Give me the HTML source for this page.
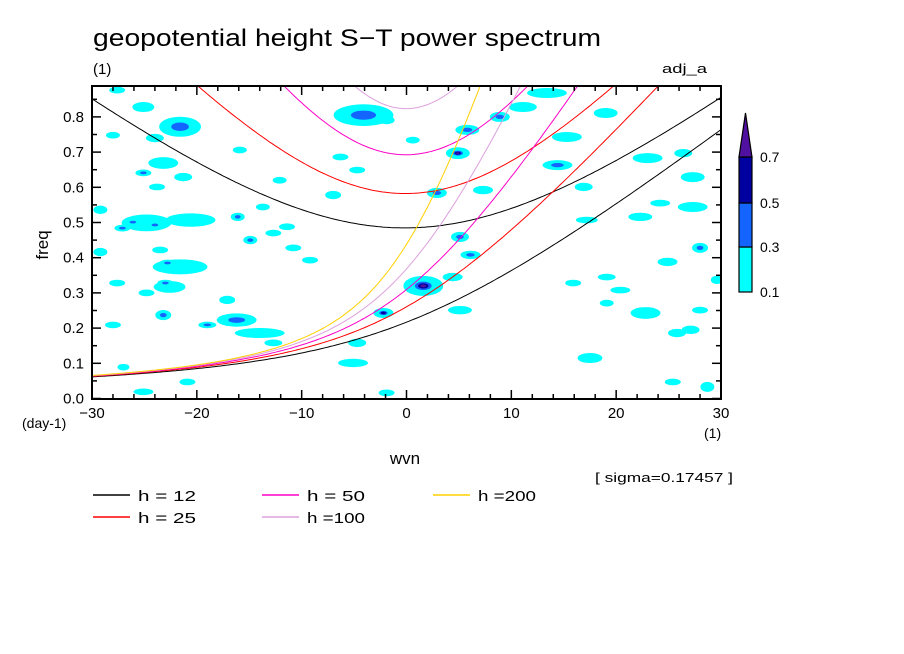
<!DOCTYPE html>
<html><head><meta charset="utf-8"><style>
html,body{margin:0;padding:0;background:#fff;}
svg{display:block;font-family:"Liberation Sans",sans-serif;}
</style></head><body>
<svg id="chart" width="904" height="654" viewBox="0 0 904 654" xmlns="http://www.w3.org/2000/svg">
<defs><clipPath id="pc"><rect x="92" y="86" width="629" height="313"/></clipPath></defs>
<text x="93" y="46" font-size="24" fill="#000" textLength="508" lengthAdjust="spacingAndGlyphs">geopotential height S−T power spectrum</text>
<text x="93" y="74" font-size="15" fill="#000">(1)</text>
<text x="707" y="73" font-size="13" fill="#000" text-anchor="end" textLength="45" lengthAdjust="spacingAndGlyphs">adj_a</text>
<g id="field" clip-path="url(#pc)"></g>
<g id="curves" clip-path="url(#pc)"></g>
<rect x="92" y="86" width="629" height="313" fill="none" stroke="#000" stroke-width="2"/>
<g id="axes"></g>
<text transform="translate(48,245) rotate(-90)" font-size="17" text-anchor="middle" fill="#000">freq</text>
<text x="22" y="428" font-size="14" fill="#000">(day-1)</text>
<text x="405" y="464" font-size="17" text-anchor="middle" fill="#000">wvn</text>
<text x="704" y="438" font-size="14" fill="#000">(1)</text>
<text x="595" y="482" font-size="13" fill="#000" textLength="138" lengthAdjust="spacingAndGlyphs">[ sigma=0.17457 ]</text>
<g id="colorbar"></g>
<g id="legend"></g>
</svg>
<script>
const NS="http://www.w3.org/2000/svg";
// ---- data ----
const xTicks=[-30,-20,-10,0,10,20,30];
const xTickLabels=["−30","−20","−10","0","10","20","30"];
const yTicks=[0,0.1,0.2,0.3,0.4,0.5,0.6,0.7,0.8];
const yTickLabels=["0.0","0.1","0.2","0.3","0.4","0.5","0.6","0.7","0.8"];
const depths=[12,25,50,100,200];
const depthColors=["#000000","#ff0000","#ff00c8","#dda0dd","#ffd000"];
const depthLabels=["h = 12","h = 25","h = 50","h =100","h =200"];
const cbLevels=[0.1,0.3,0.5,0.7];
const cbColors=["#00ffff","#1464ff","#0000a0","#5010a0"];
const blobK=[-27.6,-25.1,-21.6,-28.0,-24.0,-23.2,-25.1,-21.3,-23.8,-24.8,-27.1,-26.1,-24.0,-20.6,-29.2,-29.2,-23.5,-21.6,-22.8,-27.6,-22.6,-23.0,-24.8,-23.2,-28.0,-19.0,-16.2,-14.0,-12.7,-14.9,-16.1,-12.7,-10.8,-11.4,-4.1,-1.9,-4.7,-6.3,-7.0,-4.7,-5.1,-2.2,-25.1,-20.9,-1.9,-27.0,-17.1,-12.1,-15.9,-13.7,-9.2,4.9,1.6,8.9,11.1,5.8,13.4,19.0,15.3,14.4,16.9,7.3,2.9,5.1,6.1,4.4,5.1,17.2,22.3,27.3,23.0,27.3,26.4,28.0,24.9,20.4,22.8,17.5,25.8,27.1,25.4,28.7,19.1,15.9,29.6,24.2,0.6,19.1,28.0];
const blobF=[0.876,0.828,0.772,0.748,0.740,0.669,0.641,0.629,0.601,0.499,0.484,0.501,0.493,0.507,0.536,0.416,0.422,0.374,0.385,0.328,0.317,0.328,0.300,0.237,0.209,0.209,0.223,0.186,0.158,0.450,0.516,0.470,0.428,0.488,0.805,0.791,0.649,0.686,0.578,0.158,0.101,0.243,0.019,0.047,0.016,0.089,0.280,0.620,0.706,0.544,0.393,0.697,0.320,0.800,0.828,0.763,0.868,0.811,0.743,0.663,0.601,0.592,0.584,0.459,0.408,0.345,0.251,0.507,0.516,0.544,0.683,0.629,0.697,0.428,0.388,0.308,0.243,0.115,0.186,0.195,0.047,0.033,0.345,0.328,0.337,0.555,0.734,0.271,0.251];
const blobW=[1.6,2.2,4.2,1.4,1.8,3.0,1.6,1.8,1.6,5.0,1.6,1.6,1.6,5.0,1.4,1.4,1.6,5.5,1.6,1.6,3.2,1.6,1.6,1.6,1.6,1.8,4.0,5.0,1.8,1.4,1.4,1.6,1.6,1.6,6.0,1.6,1.6,1.6,1.6,1.8,3.0,2.0,2.0,1.6,1.6,1.2,1.6,1.4,1.4,1.4,1.6,2.4,4.0,2.0,2.8,2.4,4.0,2.4,3.0,3.0,1.8,2.0,2.0,1.8,2.0,2.0,2.4,2.2,2.4,3.0,3.0,2.4,1.8,1.6,2.0,2.0,3.0,2.5,1.8,1.8,1.6,1.4,1.8,1.6,1.2,2.0,1.4,1.4,1.6];
const blobH=[0.02,0.03,0.06,0.02,0.025,0.035,0.02,0.025,0.02,0.05,0.02,0.02,0.02,0.04,0.025,0.025,0.02,0.045,0.02,0.02,0.035,0.02,0.02,0.03,0.02,0.02,0.04,0.03,0.02,0.025,0.025,0.02,0.02,0.02,0.065,0.025,0.02,0.02,0.025,0.025,0.025,0.03,0.02,0.02,0.02,0.02,0.025,0.02,0.02,0.02,0.02,0.035,0.06,0.03,0.03,0.03,0.03,0.03,0.03,0.03,0.025,0.025,0.03,0.03,0.025,0.025,0.025,0.02,0.025,0.03,0.03,0.03,0.025,0.03,0.025,0.02,0.035,0.03,0.025,0.025,0.02,0.03,0.02,0.02,0.025,0.02,0.02,0.02,0.02];
const blobLvl=[0.2,0.2,0.4,0.2,0.2,0.2,0.35,0.2,0.2,0.2,0.4,0.4,0.4,0.2,0.2,0.2,0.2,0.2,0.35,0.2,0.2,0.35,0.2,0.35,0.2,0.35,0.35,0.2,0.2,0.4,0.4,0.2,0.2,0.2,0.45,0.2,0.2,0.2,0.2,0.2,0.2,0.6,0.2,0.2,0.2,0.2,0.2,0.2,0.2,0.2,0.2,0.75,0.75,0.35,0.2,0.35,0.2,0.2,0.2,0.35,0.2,0.2,0.35,0.35,0.35,0.2,0.2,0.2,0.2,0.2,0.2,0.2,0.2,0.4,0.2,0.2,0.2,0.2,0.2,0.2,0.2,0.2,0.2,0.2,0.2,0.2,0.2,0.2,0.2];
// ---- scales ----
const X0=92,X1=721,Y0=398.5,PPF=352;
const xs=k=>X0+(k+30)/60*(X1-X0);
const ys=f=>Y0-f*PPF;
function mk(tag,attrs,parent){const e=document.createElementNS(NS,tag);for(const a in attrs)e.setAttribute(a,attrs[a]);parent.appendChild(e);return e;}
// ---- contour blobs ----
const field=document.getElementById('field');
const lvlScale=[0.95,0.4,0.25,0.14];
for(let i=0;i<blobK.length;i++){
  for(let j=0;j<4;j++){
    if(blobLvl[i]<cbLevels[j]+0.05&&j>0)break;
    const e=mk('ellipse',{cx:xs(blobK[i]),cy:ys(blobF[i]),rx:blobW[i]/60*(X1-X0)/2*lvlScale[j],ry:blobH[i]*PPF/2*lvlScale[j],fill:cbColors[j]},field);
    
    
  }
}
// ---- dispersion curves ----
const g=9.81,beta=2.29e-11,a=6.371e6,cpd=86400/(2*Math.PI);
function mrg(k,c){const km=k/a;return (km*c/2+Math.sqrt(km*km*c*c/4+beta*c))*cpd;}
function ig(k,c){const km=k/a;const A=km*km*c*c+5*beta*c,B=beta*km*c;let w=2*Math.sqrt(A);
  for(let i=0;i<60;i++){const f=w*w*w-A*w-B,d=3*w*w-A;w-=f/d;}return w*cpd;}
const curves=document.getElementById('curves');
depths.forEach((h,i)=>{
  const c=Math.sqrt(g*h);
  [mrg,ig].forEach((fn,m)=>{
    let d='';
    for(let k=-30;k<=30.001;k+=0.25){const f=Math.min(fn(k,c),1.2);d+=(d?'L':'M')+xs(k).toFixed(1)+','+ys(f).toFixed(1);}
    const p=mk('path',{d:d,fill:'none',stroke:depthColors[i],'stroke-width':1},curves);
    
    
  });
});
// ---- axes ----
const axes=document.getElementById('axes');
for(let k=-30;k<=30;k+=2){
  const major=k%10===0,L=major?8:4;
  mk('line',{x1:xs(k),x2:xs(k),y1:398,y2:398-L,stroke:'#000','stroke-width':1.5},axes);
  mk('line',{x1:xs(k),x2:xs(k),y1:87,y2:87+L,stroke:'#000','stroke-width':1.5},axes);
}
for(let f=0;f<=0.88;f+=0.05){
  const major=Math.round(f*100)%10===0,L=major?8:4;
  mk('line',{x1:93,x2:93+L,y1:ys(f),y2:ys(f),stroke:'#000','stroke-width':1.5},axes);
  mk('line',{x1:720,x2:720-L,y1:ys(f),y2:ys(f),stroke:'#000','stroke-width':1.5},axes);
}
xTicks.forEach((k,i)=>{const t=mk('text',{x:xs(k),y:418,'font-size':15,'text-anchor':'middle',fill:'#000'},axes);t.textContent=xTickLabels[i];
  
  });
yTicks.forEach((f,i)=>{const t=mk('text',{x:84,y:ys(f)+5,'font-size':15,'text-anchor':'end',fill:'#000'},axes);t.textContent=yTickLabels[i];
  
  });
// ---- colorbar ----
const cb=document.getElementById('colorbar');
const cbY=[292,247,203,157];
for(let j=0;j<3;j++){const r=mk('rect',{x:739,y:cbY[j+1],width:13,height:cbY[j]-cbY[j+1],fill:cbColors[j],stroke:'#000','stroke-width':1.2},cb);
  
  }
const tri=mk('polygon',{points:'739,157 752,157 745.5,113',fill:cbColors[3],stroke:'#000','stroke-width':1.2},cb);


cbLevels.forEach((v,j)=>{const t=mk('text',{x:760,y:cbY[j]+5,'font-size':14,fill:'#000'},cb);t.textContent=v.toFixed(1);
  
  });
// ---- legend ----
const lg=document.getElementById('legend');
const lgX=[93,93,262,262,433],lgY=[495,517,495,517,495];
depths.forEach((h,i)=>{
  mk('line',{x1:lgX[i],x2:lgX[i]+37,y1:lgY[i],y2:lgY[i],stroke:depthColors[i],'stroke-width':1.5},lg);
  const t=mk('text',{x:lgX[i]+45,y:lgY[i]+6,'font-size':15,fill:'#000',textLength:58,lengthAdjust:'spacingAndGlyphs'},lg);t.textContent=depthLabels[i];
  
  
});
</script>
</body></html>
